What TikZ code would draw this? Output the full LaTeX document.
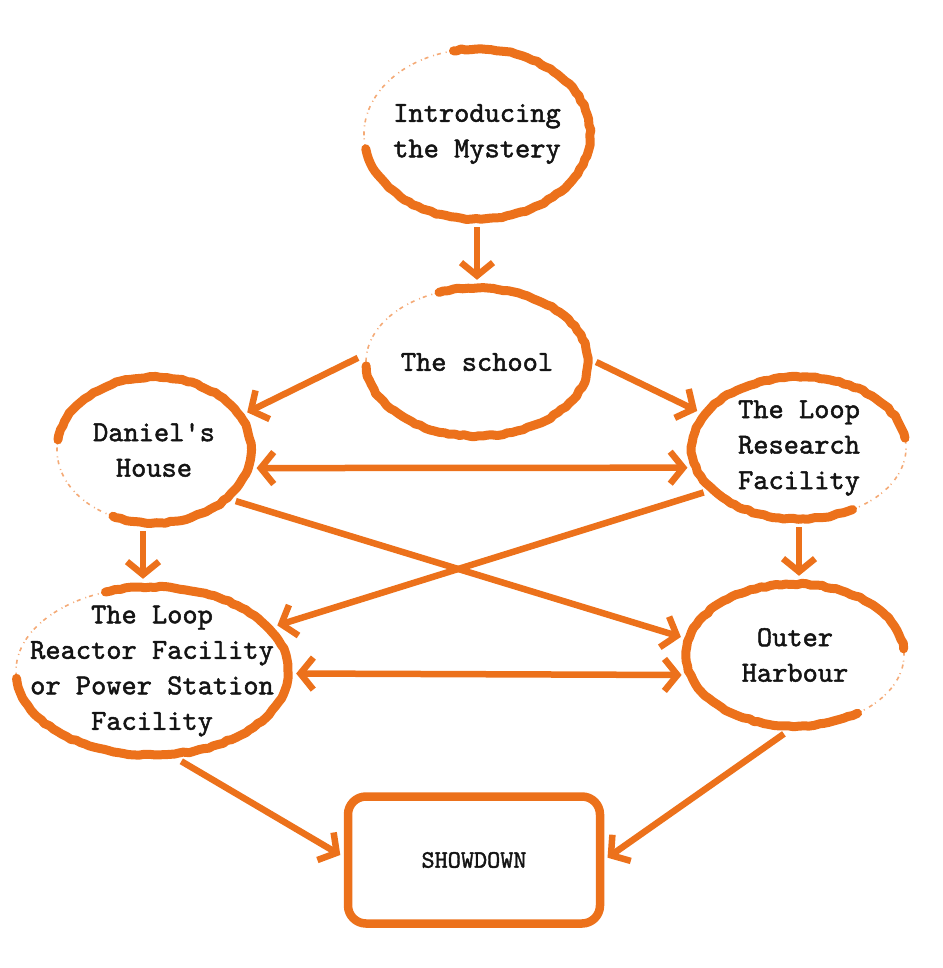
\documentclass[tikz,border=0pt]{standalone}
\usepackage{fontspec}
\newfontfamily\typefont{lmmono10-regular.otf}[FakeBold=1.6]
\usetikzlibrary{arrows.meta,shapes.geometric,decorations.pathmorphing}
\definecolor{brand}{RGB}{236,113,27}
\definecolor{ink}{RGB}{20,20,20}
\newcommand\brushring[6]{%
  \draw[faint] ([shift={(#5:#2pt and #3pt)}]#1.center) arc[start angle=#5, end angle=#6, x radius=#2pt, y radius=#3pt];
  \draw[brush] ([shift={(#4:#2pt and #3pt)}]#1.center) arc[start angle=#4, end angle=#5, x radius=#2pt, y radius=#3pt];
}
\tikzset{
  brush/.style={draw=brand, line width=9pt, line cap=round, line join=round,
    decorate, decoration={random steps, segment length=5pt, amplitude=0.8pt}},
  faint/.style={draw=brand!60, line width=1.6pt, dash pattern=on 4pt off 3pt on 1pt off 5pt},
  place/.style={ellipse, draw=none, inner sep=0pt},
  words/.style={align=center, text=ink, inner sep=0pt,
    font=\typefont\fontsize{29pt}{35.5pt}\selectfont},
  finale/.style={rectangle, draw=brand, line width=8.5pt, rounded corners=18pt, inner sep=0pt,
    text=ink, font=\typefont\fontsize{25pt}{28pt}\selectfont},
  barb/.tip={Straight Barb[length=13pt, width=32pt]},
  link/.style={draw=brand, line width=6.5pt, -barb},
  twoway/.style={draw=brand, line width=6.5pt, barb-barb},
}
\begin{document}
\begin{tikzpicture}[x=1pt, y=1pt]
\useasboundingbox (0,0) rectangle (942,-968);
\pgfmathsetseed{11}
% places (invisible borders slightly outside the drawn rings)
\node[place, minimum width=242pt, minimum height=186pt,
  label={[words]center:Introducing\\the Mystery}] (intro) at (477,-134) {};
\node[place, minimum width=238pt, minimum height=164pt,
  label={[words]center:The school}] (school) at (477,-362) {};
\node[place, minimum width=210pt, minimum height=162pt,
  label={[words]center:Daniel's\\House}] (daniel) at (154,-450) {};
\node[place, minimum width=230pt, minimum height=158pt,
  label={[words]center:The Loop\\Research\\Facility}] (research) at (799,-448) {};
\node[place, minimum width=288pt, minimum height=184pt,
  label={[words]center:The Loop\\Reactor Facility\\or Power Station\\Facility}] (reactor) at (152,-671) {};
\node[place, minimum width=234pt, minimum height=158pt,
  label={[words]center:Outer\\Harbour}] (harbour) at (795,-655) {};
\node[finale, minimum width=252pt, minimum height=127pt] (showdown) at (474,-860) {SHOWDOWN};
% hand-drawn rings
\brushring{intro}{113}{85}{190}{462}{550}
\brushring{school}{111}{74}{183}{470}{543}
\brushring{daniel}{97}{73}{172}{-115}{-188}
\brushring{research}{107}{71}{8}{300}{368}
\brushring{reactor}{136}{84}{185}{470}{545}
\brushring{harbour}{109}{71}{5}{305}{365}
% connectors
\draw[link] (intro.south) -- (intro.south |- school.north);
\draw[link] (school.178) -- (daniel.22);
\draw[link] (school.0) -- (research.160);
\draw[twoway] (daniel.-10) -- (research.190);
\draw[link] (daniel.-32) -- (harbour.171);
\draw[link] (research.205) -- (reactor.20);
\draw[twoway] (reactor.-1) -- (harbour.190);
\draw[link] ([xshift=-11pt]daniel.south) -- ([xshift=-11pt]daniel.south |- reactor.north);
\draw[link] (research.south) -- (research.south |- harbour.north);
\draw[link, shorten >=4pt] (reactor.-72) -- ([yshift=3pt]showdown.west);
\draw[link, shorten >=4pt] (harbour.-98) -- (showdown.east);
\end{tikzpicture}
\end{document}
